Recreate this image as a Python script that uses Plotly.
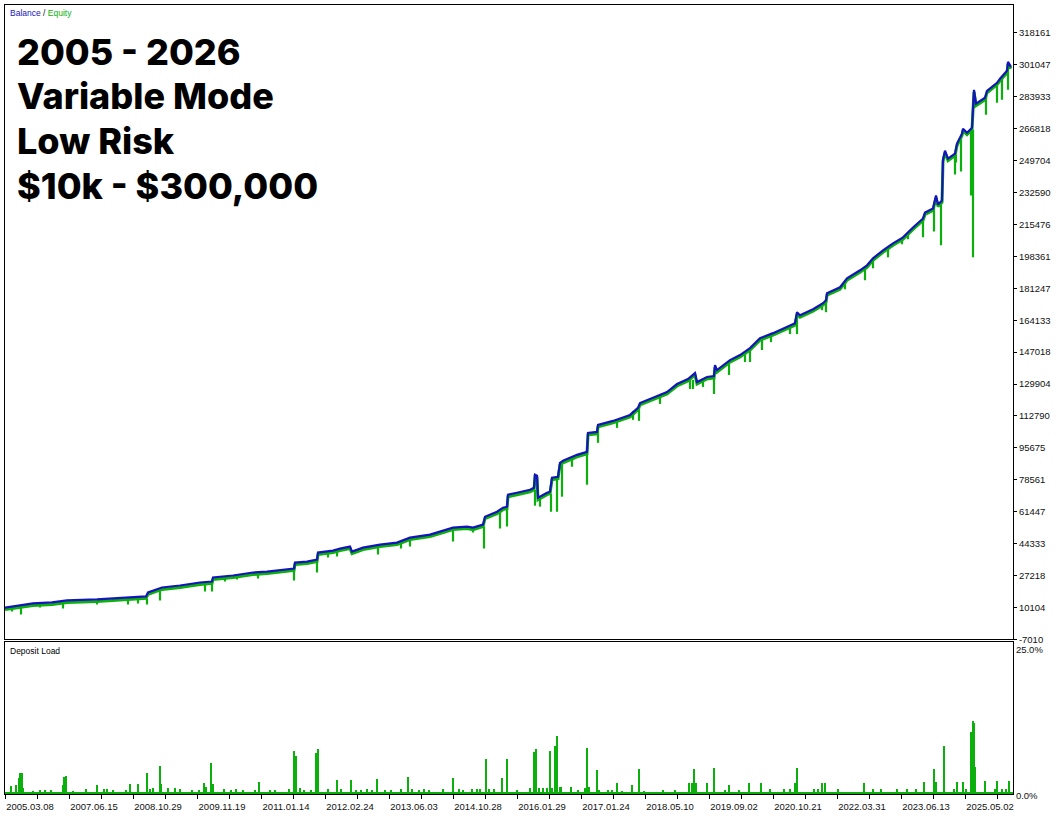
import plotly.graph_objects as go

# balance curve (x = deal position along the axis)
bal_x = [0, 15, 28, 47, 62, 92, 122, 141, 143, 157, 175, 195, 207, 208, 228, 248, 262, 282, 289, 290,
         302, 312, 313, 328, 335, 345, 347, 358, 375, 392, 405, 425, 448, 462, 468, 478, 480, 492, 498, 502,
         503, 512, 525, 529, 530, 532, 533, 542, 545, 547, 553, 555, 558, 572, 582, 583, 592, 593, 608, 625,
         633, 635, 648, 662, 672, 683, 690, 692, 702, 709, 710, 712, 725, 735, 745, 755, 768, 782, 790, 792,
         795, 808, 818, 821, 822, 835, 842, 855, 862, 868, 878, 888, 898, 908, 918, 920, 928, 931, 933, 937,
         938, 940, 943, 950, 952, 957, 958, 962, 967, 969, 971, 980, 982, 992, 995, 1002, 1003, 1006]
balance = [10000, 11170, 12240, 12780, 13850, 14380, 15450, 15990, 18130, 20800, 21870, 23480, 24010, 26150, 27220, 28820, 29360, 30430, 30960, 34170,
           34710, 35780, 39520, 40590, 41660, 42730, 40050, 42190, 43800, 44870, 47540, 49150, 52890, 53430, 52890, 54490, 58770, 61450, 63590, 64120,
           70540, 71610, 73210, 74280, 81240, 80700, 68930, 71610, 72140, 79630, 80170, 87650, 88720, 91930, 93540, 103700, 104230, 107980, 110110, 113330,
           117070, 119740, 122420, 125630, 129900, 132580, 135790, 130970, 133650, 134180, 140070, 137390, 142740, 145410, 149160, 154510, 157180, 160390, 162530, 168410,
           166810, 170020, 173230, 174830, 178580, 181790, 186600, 190880, 193550, 197300, 201570, 205320, 208520, 213870, 218680, 221890, 224030, 230980, 226170, 228310,
           250240, 255050, 250770, 253450, 258800, 264150, 266820, 264680, 267350, 287670, 280190, 283400, 287140, 291420, 293560, 297840, 302650, 299980]

# equity drawdowns: position, equity before the drop, equity low
dip_x = [7, 16, 35, 58, 92, 123, 133, 142, 155, 200, 207, 220, 232, 253, 289, 312, 323, 332, 373, 396,
         405, 448, 468, 479, 495, 502, 530, 535, 546, 552, 557, 567, 582, 593, 612, 628, 634, 655, 685, 688,
         698, 709, 724, 740, 745, 757, 766, 785, 792, 817, 821, 840, 860, 868, 883, 897, 903, 918, 929, 936,
         950, 951, 956, 966, 968, 981, 992, 997, 1003]
dip_top = [10640, 11170, 12240, 13310, 14380, 15450, 15990, 15990, 20270, 23480, 24010, 26680, 27220, 28820, 30960, 35780, 40050, 41120, 43800, 45400,
           47540, 52890, 52890, 54490, 62520, 64120, 74280, 69470, 72140, 80170, 88190, 90860, 93540, 107980, 110650, 116530, 118670, 124020, 133650, 133110,
           132580, 134180, 142210, 147550, 149160, 155040, 156650, 161460, 168410, 173230, 174830, 185530, 193010, 197290, 203710, 207990, 211200, 218680, 225640, 228310,
           253450, 253980, 263070, 267350, 267350, 285000, 291420, 295160, 300510]
dip_low = [9040, 7430, 11170, 10640, 12780, 12780, 13310, 12780, 14920, 19730, 19730, 25080, 26150, 26680, 25610, 29890, 37920, 38450, 39520, 42730,
           43800, 46470, 51290, 42730, 53430, 54490, 65730, 65190, 62520, 62520, 70540, 86580, 76960, 99420, 107440, 111720, 111190, 120280, 128300, 128300,
           129370, 125630, 135790, 142740, 142740, 149160, 153440, 157720, 157720, 170550, 169480, 181780, 186600, 193010, 198900, 205850, 208520, 209590, 212800, 205310,
           243290, 249700, 244890, 232060, 198900, 275380, 281790, 283400, 288750]

# deposit load, percent
load_x = [6, 11, 14, 15, 17, 18, 28, 35, 40, 46, 58, 59, 61, 68, 81, 92, 99, 102, 108, 121,
          125, 133, 142, 145, 148, 155, 156, 163, 170, 175, 187, 194, 199, 201, 206, 208, 219, 226, 231, 238,
          250, 254, 265, 270, 284, 289, 291, 295, 299, 306, 311, 313, 323, 332, 336, 346, 351, 356, 362, 367,
          372, 380, 386, 396, 403, 407, 414, 419, 424, 438, 448, 454, 458, 467, 472, 475, 481, 484, 489, 497,
          502, 512,
          525, 529, 531, 534, 538, 542, 545, 547, 550, 552, 555, 556, 566, 573, 580, 582, 584, 592, 594, 603,
          607, 612, 617, 627, 634, 639, 658, 670, 684, 687, 689, 691, 702, 709, 720, 724, 734, 744, 756, 765,
          779, 785, 790, 792, 809, 813, 817, 820, 833, 859, 868, 876, 892, 902, 911, 919, 929, 931, 939, 949,
          952, 958, 961, 966, 968, 969, 970, 980, 990, 992, 997, 1001, 1004]
load_pct = [1.2, 1.4, 2.5, 3.4, 3.4, 0.8, 0.3, 0.5, 0.5, 0.5, 1.4, 2.6, 2.8, 0.3, 0.7, 1.4, 0.7, 0.7, 0.4, 0.4,
            1.5, 1.5, 3.3, 0.7, 0.8, 4.6, 1.5, 0.8, 0.8, 0.7, 0.4, 0.4, 1.6, 0.9, 5.0, 1.5, 0.7, 0.4, 0.7, 0.4,
            0.4, 1.8, 0.4, 0.4, 0.7, 7.1, 6.3, 0.8, 0.4, 0.4, 6.8, 7.4, 0.7, 2.2, 0.7, 2.2, 0.4, 0.4, 0.7, 0.4,
            2.3, 0.4, 0.4, 0.7, 2.7, 0.7, 0.4, 0.7, 0.4, 0.7, 2.5, 0.7, 0.4, 0.7, 0.7, 0.7, 5.7, 0.7, 0.7, 2.5,
            5.7, 0.4,
            0.8, 7.0, 7.4, 0.8, 0.8, 0.8, 7.1, 0.8, 8.0, 9.7, 1.0, 1.0, 1.0, 0.4, 0.8, 7.7, 1.0, 3.8, 0.4, 0.4,
            0.4, 1.6, 0.3, 1.4, 4.0, 0.3, 0.4, 0.4, 1.6, 1.6, 4.0, 1.6, 1.6, 4.2, 0.4, 1.4, 0.4, 1.6, 1.7, 0.6,
            0.6, 0.6, 1.7, 4.2, 0.6, 0.6, 1.7, 1.7, 0.6, 1.7, 0.6, 0.6, 0.6, 0.6, 0.6, 1.8, 4.1, 1.9, 8.0, 0.6,
            1.8, 1.8, 0.7, 10.4, 12.3, 11.9, 4.3, 2.0, 0.7, 2.0, 0.7, 0.7, 2.0]

# axis labels
y_ticks = [-7010, 10104, 27218, 44333, 61447, 78561, 95675, 112790, 129904, 147018,
           164133, 181247, 198361, 215476, 232590, 249704, 266818, 283933, 301047, 318161]
date_labels = ['2005.03.08', '2007.06.15', '2008.10.29', '2009.11.19', '2011.01.14', '2012.02.24',
               '2013.06.03', '2014.10.28', '2016.01.29', '2017.01.24', '2018.05.10', '2019.09.02',
               '2020.10.21', '2022.03.31', '2023.06.13', '2025.05.02']
title_lines = ['2005 - 2026', 'Variable Mode', 'Low Risk', '$10k - $300,000']

BLUE = '#1515bb'
GREEN = '#0cb00c'
small_font = dict(family='Liberation Sans, Arial', size=9.5, color='#111111')

x_major = [64 * i for i in range(len(date_labels))]
x_minor = [v + 32 for v in x_major]
y_lo, y_hi = -7010, 333136
shift = 1050  # equity drawn a hair below balance, like the terminal does

seg_x, seg_y = [], []
for x, t, l in zip(dip_x, dip_top, dip_low):
    seg_x += [x, x, None]
    seg_y += [t, l, None]

fig = go.Figure()

# base axis y only carries the ticks; equity on y3 (shifted), balance on y4 on top
fig.add_trace(go.Scatter(x=[0], y=[y_lo], mode='markers', marker=dict(opacity=0),
                         xaxis='x', yaxis='y', hoverinfo='skip'))
fig.add_trace(go.Scatter(x=bal_x, y=balance, mode='lines', line=dict(color=GREEN, width=3),
                         xaxis='x', yaxis='y3', hoverinfo='skip'))
fig.add_trace(go.Scatter(x=seg_x, y=seg_y, mode='lines', line=dict(color=GREEN, width=2.2),
                         xaxis='x', yaxis='y3', hoverinfo='skip'))
fig.add_trace(go.Scatter(x=bal_x, y=balance, mode='lines', line=dict(color=BLUE, width=2.2),
                         xaxis='x', yaxis='y4'))
fig.add_trace(go.Bar(x=load_x, y=load_pct, width=1.8, marker=dict(color=GREEN, line=dict(width=0)),
                     xaxis='x2', yaxis='y2'))

fig.update_layout(
    width=1058, height=816,
    margin=dict(l=5, r=45, t=4, b=18),
    paper_bgcolor='white', plot_bgcolor='white',
    showlegend=False, bargap=0,
    font=small_font,
    xaxis=dict(domain=[0, 1], anchor='y', range=[0, 1008], showgrid=False, zeroline=False,
               showticklabels=False, ticks='', showline=True, mirror=True, linecolor='black', linewidth=1),
    yaxis=dict(domain=[0.196, 1], anchor='x', range=[y_lo, y_hi], side='right', showgrid=False,
               zeroline=False, tickmode='array', tickvals=y_ticks, ticktext=[str(v) for v in y_ticks],
               ticks='outside', ticklen=3, tickcolor='black', showline=True, mirror=True,
               linecolor='black', linewidth=1, tickfont=small_font),
    yaxis3=dict(overlaying='y', anchor='x', range=[y_lo + shift, y_hi + shift], visible=False),
    yaxis4=dict(overlaying='y', anchor='x', range=[y_lo, y_hi], visible=False),
    xaxis2=dict(domain=[0, 1], anchor='y2', range=[0, 1008], showgrid=False, zeroline=False,
                tickmode='array', tickvals=x_major, ticktext=date_labels, ticks='outside', ticklen=4,
                tickcolor='black', ticklabelshift=25, ticklabelstandoff=0,
                minor=dict(tickvals=x_minor, ticks='outside', ticklen=4, tickcolor='black'),
                showline=True, mirror=True, linecolor='black', linewidth=1, tickfont=small_font),
    yaxis2=dict(domain=[0, 0.1925], anchor='x2', range=[-0.2, 25.7], side='right', showgrid=False,
                zeroline=True, zerolinecolor=GREEN, zerolinewidth=2,
                tickmode='array', tickvals=[0, 25], ticktext=['0.0%', '25.0%'], ticks='',
                ticklabelshift=3, showline=True, mirror=True, linecolor='black', linewidth=1,
                tickfont=small_font),
)

# legend-like captions in the panel corners
fig.add_annotation(xref='paper', yref='paper', x=0.003, y=0.9985, xanchor='left', yanchor='top',
                   showarrow=False, font=dict(family='Liberation Sans, Arial', size=8.5),
                   text=f"<span style='color:{BLUE}'>Balance</span> / <span style='color:{GREEN}'>Equity</span>")
fig.add_annotation(xref='paper', yref='paper', x=0.003, y=0.1905, xanchor='left', yanchor='top',
                   showarrow=False, font=dict(family='Liberation Sans, Arial', size=8.5, color='black'),
                   text='Deposit Load')

# big headline text
for i, line in enumerate(title_lines):
    fig.add_annotation(xref='paper', yref='paper', x=0.01, y=(798 - 51 - 45 * i) / 794,
                       xanchor='left', yanchor='middle', showarrow=False, text=line,
                       font=dict(family='Inter, Noto Sans', size=36, color='black', weight=800))

# the page has a default body margin; drop it so the figure fills the window
fig.write_html("out.html", post_script="document.body.style.margin='0';",
               config={'displayModeBar': False})
